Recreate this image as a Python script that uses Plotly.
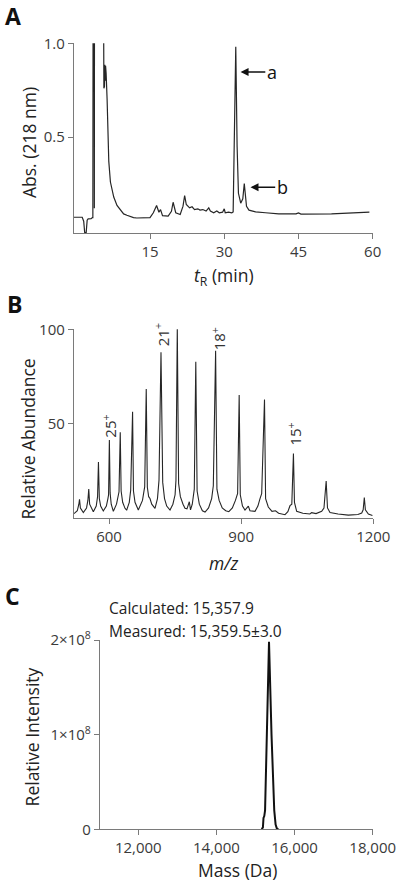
import plotly.graph_objects as go

# ---------------- Panel A: HPLC chromatogram ----------------
hplc_time_min = [-0.36, 1.3, 1.6, 1.8, 2.1, 2.3, 2.5, 3.1, 3.35, 3.45, 3.5, 3.7, 3.75, 3.78,
                 5.6, 5.68, 5.74, 5.8, 5.86, 5.95, 6.02, 6.13, 6.33, 6.53, 6.67, 7.0, 7.33,
                 7.67, 8.33, 8.67, 9.67, 10.33, 11.67, 12.33, 15.0, 15.67, 16.33, 16.8, 17.13,
                 17.53, 18.67, 19.33, 19.67, 20.2, 21.1, 21.67, 22.0, 22.33, 22.67, 23.0, 23.5,
                 24.0, 24.67, 25.1, 25.67, 26.33, 26.87, 27.2, 27.87, 28.5, 29.0, 29.67, 30.0,
                 30.2, 30.87, 31.53, 31.8, 32.0, 32.33, 32.6, 32.87, 33.33, 33.75, 34.05, 34.3,
                 34.5, 35.0, 36.33, 38.33, 41.0, 44.5, 45.0, 45.5, 51.67, 59.33]
hplc_abs = [0.072, 0.072, 0.051, -0.01, -0.01, 0.056, 0.063, 0.064, 0.07, 0.07, 1.3, 1.3, 0.12, 1.3,
            1.3, 0.76, 0.89, 0.77, 0.885, 0.80, 0.88, 0.84, 0.70, 0.52, 0.37, 0.26, 0.21,
            0.18, 0.135, 0.125, 0.09, 0.083, 0.07, 0.068, 0.07, 0.096, 0.135, 0.099, 0.113,
            0.081, 0.078, 0.104, 0.152, 0.096, 0.087, 0.131, 0.188, 0.14, 0.133, 0.122, 0.128,
            0.113, 0.117, 0.11, 0.113, 0.105, 0.122, 0.105, 0.096, 0.105, 0.096, 0.099, 0.117,
            0.096, 0.099, 0.096, 0.10, 0.5, 0.982, 0.45, 0.2, 0.147, 0.17, 0.252, 0.15,
            0.13, 0.11, 0.101, 0.096, 0.09, 0.09, 0.095, 0.089, 0.09, 0.099]
hplc_xticks = [15, 30, 45, 60]
hplc_yticks = [0.5, 1.0]
hplc_ytick_text = ["0.5", "1.0"]
peak_labels = ["a", "b"]
peak_label_abs = [0.847, 0.232]
peak_arrow_head_time = [33.3, 35.3]
peak_arrow_tail_time = [38.3, 40.3]

# ---------------- Panel B: ESI mass spectrum ----------------
ms_mz = [520.5, 528, 531.5, 533.0, 535, 541.7, 549, 552, 554, 556, 564.4, 571, 574, 576, 578, 581,
         587, 594, 597.5, 599, 600.8, 602.5, 605, 609.8, 617, 621, 622.7, 625.5, 627.5, 631,
         636.3, 640, 646, 649.2, 653.5, 655.5, 659, 666.5, 676, 681, 684.5, 687, 690, 693, 697,
         704.4, 710, 713.5, 718, 721.9, 726, 731, 738.5, 745, 750, 752, 755, 758, 762, 768,
         772.5, 777, 782.3, 785, 789, 793.6, 797, 800, 805, 812, 818, 826, 833, 836.8, 842,
         845, 850, 857, 865, 872, 880, 887, 892, 895.5, 898, 903, 908.7, 916.3, 920, 931.4,
         938, 942.8, 946.6, 953, 955.5, 961.6, 970, 978, 985, 999.5, 1006, 1010.9, 1015,
         1018.7, 1021, 1026, 1040, 1056, 1060, 1070, 1082.8, 1088, 1093, 1096, 1101.7, 1120,
         1143.3, 1165, 1173.7, 1177, 1179.6, 1182, 1188.8, 1198]
ms_abund = [2.0, 3.5, 7, 9.6, 5, 2.6, 5, 9, 15.0, 7, 3.0, 6, 11, 29.4, 10, 6,
            3.4, 6, 10, 12, 41.1, 13, 7, 3.2, 7, 12, 13.6, 45.2, 14, 8,
            4.8, 3.8, 8, 14.5, 56.2, 14, 8, 3.9, 9, 16.3, 68.2, 16, 11, 10, 7,
            4.8, 10, 19.8, 87.8, 18.6, 10, 6, 3.9, 7, 12, 19.8, 101, 18, 11, 7,
            4.8, 4.5, 8.3, 4, 7, 15, 82.8, 14, 7, 3.5, 2.8, 5, 10, 16.8, 88.6,
            15, 9, 5, 3.5, 3, 5, 9, 12.8, 65, 12, 6, 3.9, 6, 3.5, 3.2,
            6, 10, 12.6, 62.7, 10, 5.5, 3.2, 3.5, 2.2, 1.4, 3, 6.2, 7,
            34, 8, 3.2, 2.2, 1.8, 2.5, 2, 3.2, 5, 19.3, 5, 2.6, 1.8,
            1.2, 1.5, 2.3, 4, 10.6, 4, 1.8, 1.0]
ms_xticks = [600, 900, 1200]
ms_yticks = [50, 100]
charge_labels = ["25<sup>+</sup>", "21<sup>+</sup>", "18<sup>+</sup>", "15<sup>+</sup>"]
charge_label_mz = [602, 721, 848, 1019]
charge_label_abund = [48.7, 97, 94.8, 44.3]

# ---------------- Panel C: deconvoluted mass ----------------
decon_mass = [15159, 15190, 15205, 15225, 15245, 15262, 15290, 15346, 15410, 15450, 15480,
              15515, 15545, 15584]
decon_intensity = [0, 0.02e8, 0.12e8, 0.14e8, 0.2e8, 0.55e8, 1.0e8, 1.98e8, 1.0e8, 0.5e8, 0.2e8,
                   0.05e8, 0.01e8, 0]
decon_xticks = [12000, 14000, 16000, 18000]
decon_xtick_text = ["12,000", "14,000", "16,000", "18,000"]
decon_yticks = [0, 1e8, 2e8]
decon_ytick_text = ["0", "1×10<sup>8</sup>", "2×10<sup>8</sup>"]
mass_texts = ["Calculated: 15,357.9", "Measured: 15,359.5±3.0"]

# ---------------- figure ----------------
W, H = 400, 887
FONT = "Open Sans"
AXC = "#7a7a7a"
TRACE = "#262626"


def px(x):
    return x / W


def py(y):
    return 1 - y / H


fig = go.Figure()
fig.add_trace(go.Scatter(x=hplc_time_min, y=hplc_abs, mode="lines",
                         line=dict(color=TRACE, width=1.2), xaxis="x", yaxis="y",
                         showlegend=False, hoverinfo="skip"))
fig.add_trace(go.Scatter(x=ms_mz, y=ms_abund, mode="lines",
                         line=dict(color=TRACE, width=1.1), xaxis="x2", yaxis="y2",
                         showlegend=False, hoverinfo="skip"))
fig.add_trace(go.Scatter(x=decon_mass, y=decon_intensity, mode="lines",
                         line=dict(color="#111111", width=2), xaxis="x3", yaxis="y3",
                         showlegend=False, hoverinfo="skip"))

axis_common = dict(showline=True, linecolor=AXC, linewidth=1.3, ticks="outside",
                   ticklen=5, tickwidth=1.3, tickcolor=AXC, showgrid=False, zeroline=False,
                   automargin=False,
                   tickfont=dict(family=FONT, size=15, color="#3a3a3a"), fixedrange=True)

fig.update_layout(
    width=W, height=H, margin=dict(l=0, r=0, t=0, b=0, autoexpand=False),
    paper_bgcolor="white", plot_bgcolor="white",
    font=dict(family=FONT, color="#222222"),
    xaxis=dict(domain=[px(74), px(372.7)], range=[-0.36, 60], anchor="y",
               tickmode="array", tickvals=hplc_xticks, **axis_common),
    yaxis=dict(domain=[py(233), py(43.3)], range=[-0.012, 1.0], anchor="x",
               tickmode="array", tickvals=hplc_yticks, ticktext=hplc_ytick_text, **axis_common),
    xaxis2=dict(domain=[px(74), px(373.3)], range=[520.5, 1200], anchor="y2",
                tickmode="array", tickvals=ms_xticks, **axis_common),
    yaxis2=dict(domain=[py(518.3), py(329.3)], range=[-0.5, 100], anchor="x2",
                tickmode="array", tickvals=ms_yticks, **axis_common),
    xaxis3=dict(domain=[px(100), px(372.7)], range=[11020, 18000], anchor="y3",
                tickmode="array", tickvals=decon_xticks, ticktext=decon_xtick_text, **axis_common),
    yaxis3=dict(domain=[py(829.3), py(640)], range=[0, 2e8], anchor="x3",
                tickmode="array", tickvals=decon_yticks, ticktext=decon_ytick_text, **axis_common),
)

ann = []
# panel letters
for letter, (lx, ly) in zip(["A", "B", "C"], [(13, 16.5), (14, 304), (12, 596)]):
    ann.append(dict(text=f"<b>{letter}</b>", x=px(lx), y=py(ly), xref="paper", yref="paper",
                    showarrow=False, font=dict(family=FONT, size=23, color="#111111"),
                    xanchor="center", yanchor="middle", borderpad=0))
# axis titles
titles = [
    ("Abs. (218 nm)", 28.3, 142.7, -90),
    ("<i>t</i><sub>R</sub> (min)", 224, 276, 0),
    ("Relative Abundance", 27.5, 439, -90),
    ("<i>m/z</i>", 223, 563, 0),
    ("Relative Intensity", 31.7, 736.7, -90),
    ("Mass (Da)", 237.7, 870, 0),
]
for t, tx, ty, ang in titles:
    ann.append(dict(text=t, x=px(tx), y=py(ty), xref="paper", yref="paper", showarrow=False,
                    textangle=ang, font=dict(family=FONT, size=17.5, color="#222222"),
                    xanchor="center", yanchor="middle"))
# peak arrows (panel A)
for lab, la, ht, tt in zip(peak_labels, peak_label_abs, peak_arrow_head_time, peak_arrow_tail_time):
    ann.append(dict(text=lab, x=ht, y=la, ax=tt, ay=la, xref="x", yref="y", axref="x", ayref="y",
                    showarrow=True, arrowhead=2, arrowsize=1, arrowwidth=1.6,
                    arrowcolor="#111111", standoff=0, xanchor="left", yanchor="middle",
                    font=dict(family=FONT, size=18, color="#111111")))
# charge state labels (panel B)
for lab, mz, ab in zip(charge_labels, charge_label_mz, charge_label_abund):
    ann.append(dict(text=lab, x=mz, y=ab, xref="x2", yref="y2", showarrow=False, textangle=-90,
                    font=dict(family=FONT, size=15, color="#333333"),
                    xanchor="center", yanchor="middle"))
# mass texts (panel C)
for t, ty in zip(mass_texts, [608, 631]):
    ann.append(dict(text=t, x=px(107), y=py(ty), xref="paper", yref="paper", showarrow=False,
                    font=dict(family=FONT, size=15.5, color="#222222"),
                    xanchor="left", yanchor="middle"))

fig.update_layout(annotations=ann)

fig.write_html("out.html", config={"displayModeBar": False},
               post_script="document.body.style.margin='0';document.body.style.overflow='hidden';")
